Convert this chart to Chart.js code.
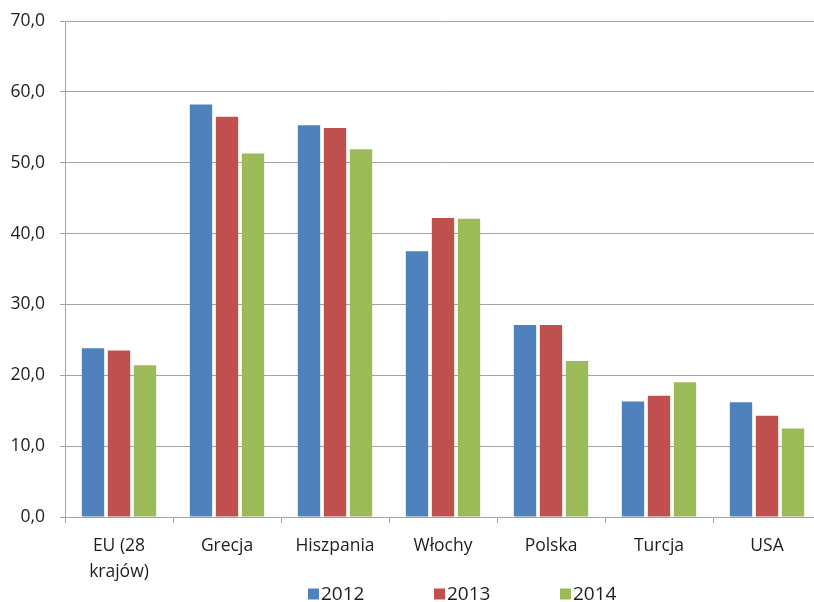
<!DOCTYPE html>
<html lang="pl">
<head>
<meta charset="utf-8">
<title>2012–2014</title>
<script src="https://cdn.jsdelivr.net/npm/chart.js@4/dist/chart.umd.min.js"></script>
<style>
  html, body { margin: 0; padding: 0; background: #fff; overflow: hidden; }
  #wrap { position: relative; width: 830px; height: 602px; }
</style>
</head>
<body>
<div id="wrap"><canvas id="chart"></canvas></div>
<script>
// Categories (countries) and series values
const categories = [['EU (28', 'krajów)'], 'Grecja', 'Hiszpania', 'Włochy', 'Polska', 'Turcja', 'USA'];
const seriesNames = ['2012', '2013', '2014'];
const values2012 = [23.8, 58.2, 55.3, 37.5, 27.1, 16.3, 16.2];
const values2013 = [23.5, 56.5, 54.9, 42.2, 27.1, 17.1, 14.3];
const values2014 = [21.4, 51.3, 51.9, 42.1, 22.0, 19.0, 12.5];
const yTickLabels = ['0,0', '10,0', '20,0', '30,0', '40,0', '50,0', '60,0', '70,0'];

const colors = ['#4F81BD', '#C0504D', '#9BBB59'];
const seriesValues = [values2012, values2013, values2014];
const gridColor = '#a3a3a3';
const textColor = '#1e1e1e';

Chart.defaults.font.family = '"Open Sans", "Liberation Sans", sans-serif';
Chart.defaults.color = textColor;

// Legend drawn below the axis labels, items spaced evenly
const bottomLegend = {
  id: 'bottomLegend',
  afterDraw(chart) {
    const ctx = chart.ctx;
    const itemStep = 126;
    const box = 11;
    const startX = 308;
    const cy = 594;
    ctx.save();
    ctx.font = '19px "Open Sans", "Liberation Sans", sans-serif';
    ctx.textBaseline = 'middle';
    ctx.textAlign = 'left';
    chart.data.datasets.forEach((ds, i) => {
      const x = startX + i * itemStep;
      ctx.fillStyle = ds.backgroundColor;
      ctx.fillRect(x, cy - box / 2, box, box);
      ctx.fillStyle = textColor;
      ctx.fillText(ds.label, x + box + 2, cy + 1);
    });
    ctx.restore();
  }
};

new Chart(document.getElementById('chart'), {
  type: 'bar',
  data: {
    labels: categories,
    datasets: seriesNames.map((name, i) => ({
      label: name,
      data: seriesValues[i],
      backgroundColor: colors[i],
      borderWidth: 0,
      categoryPercentage: 0.722,
      barPercentage: 0.86
    }))
  },
  options: {
    responsive: true,
    maintainAspectRatio: false,
    animation: false,
    layout: { padding: { left: 0, right: 9, top: 21, bottom: 5 } },
    plugins: {
      legend: { display: false },
      tooltip: { enabled: false }
    },
    scales: {
      x: {
        grid: {
          offset: true,
          drawOnChartArea: false,
          drawTicks: true,
          tickLength: 6,
          color: gridColor
        },
        border: { display: true, color: gridColor },
        ticks: {
          font: { size: 17.5, lineHeight: 1.5 },
          color: textColor,
          padding: 10,
          maxRotation: 0,
          autoSkip: false
        },
        afterFit(scale) { scale.height = 80; }
      },
      y: {
        min: 0,
        max: 70,
        grid: {
          color: gridColor,
          tickLength: 5,
          drawTicks: true
        },
        border: { display: true, color: gridColor },
        ticks: {
          stepSize: 10,
          font: { size: 17.5 },
          color: textColor,
          padding: 15,
          callback: (value) => yTickLabels[Math.round(value / 10)]
        },
        afterFit(scale) {
          scale.width = 65;
          scale.paddingTop = 0;
          scale.paddingBottom = 0;
        }
      }
    }
  },
  plugins: [bottomLegend]
});
</script>
</body>
</html>
